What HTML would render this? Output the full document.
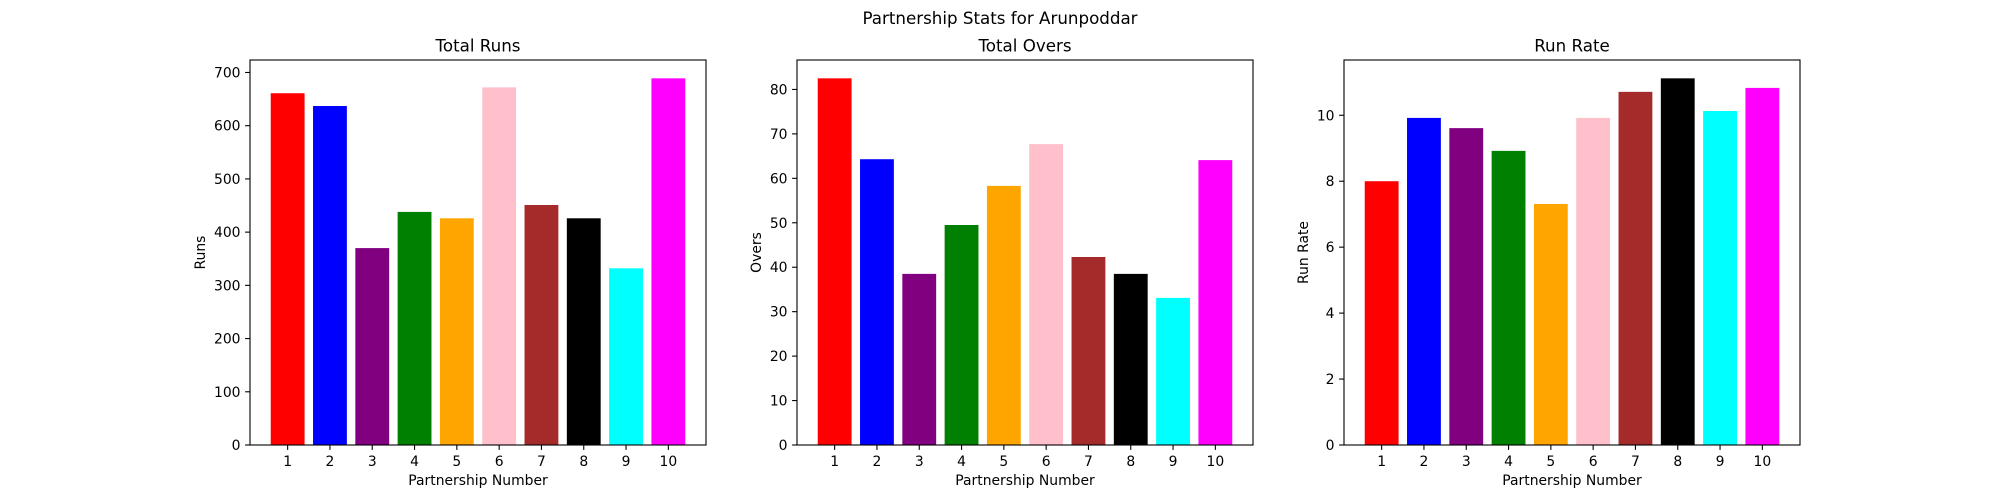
<!DOCTYPE html>
<html><head><meta charset="utf-8"><style>
html,body{margin:0;padding:0;background:#fff;}
svg{display:block;font-family:"DejaVu Sans","Liberation Sans",sans-serif;}
</style></head><body>
<svg id="fig" width="2000" height="500" viewBox="0 0 2000 500">
<text x="1000" y="24" text-anchor="middle" font-size="16.7" fill="#000">Partnership Stats for Arunpoddar</text>
</svg>
<script>
const categories = [1,2,3,4,5,6,7,8,9,10];
const barColors = ["red","blue","purple","green","orange","pink","brown","black","cyan","magenta"];
const runsValues = [661,637,370,438,426,672,451,426,332,689];
const oversValues = [82.5,64.3,38.5,49.5,58.3,67.7,42.3,38.5,33.1,64.1];
const runRateValues = [8.0,9.92,9.61,8.92,7.31,9.92,10.71,11.12,10.13,10.83];
const runsTicks = [0,100,200,300,400,500,600,700];
const oversTicks = [0,10,20,30,40,50,60,70,80];
const rateTicks = [0,2,4,6,8,10];

const NS = "http://www.w3.org/2000/svg";
const svg = document.getElementById('fig');
function mk(tag, attrs, parent){
  const e = document.createElementNS(NS, tag);
  for (const k in attrs) e.setAttribute(k, attrs[k]);
  (parent||svg).appendChild(e);
  return e;
}
const TOP=60, BOT=445;
function drawPanel(key, x0, x1, title, ylabel, values, ticks){
  const g = mk('g', {});
  
  
  const xmin = 0.11, xmax = 10.89;
  const ymax = Math.max(...values) * 1.05;
  const xs = v => x0 + (v - xmin) / (xmax - xmin) * (x1 - x0);
  const ys = v => BOT - v / ymax * (BOT - TOP);
  values.forEach((v, i) => {
    const c = categories[i];
    const r = mk('rect', {x: xs(c - 0.4), y: ys(v), width: xs(c + 0.4) - xs(c - 0.4), height: ys(0) - ys(v), fill: barColors[i]}, g);
    
    
  });
  const frame = mk('rect', {x: x0, y: TOP, width: x1 - x0, height: BOT - TOP, fill: 'none', stroke: '#000', 'stroke-width': 1.1}, g);
  
  
  ticks.forEach(t => {
    const y = ys(t);
    mk('line', {x1: x0 - 4.9, x2: x0, y1: y, y2: y, stroke: '#000', 'stroke-width': 1.1}, g);
    const tl = mk('text', {x: x0 - 9.5, y: y + 5, 'text-anchor': 'end', 'font-size': 13.9, fill: '#000'}, g);
    tl.textContent = t;
    
    
  });
  categories.forEach(c => {
    const x = xs(c);
    mk('line', {x1: x, x2: x, y1: BOT, y2: BOT + 4.9, stroke: '#000', 'stroke-width': 1.1}, g);
    const tl = mk('text', {x: x, y: BOT + 21, 'text-anchor': 'middle', 'font-size': 13.9, fill: '#000'}, g);
    tl.textContent = c;
    
    
  });
  const tt = mk('text', {x: (x0 + x1) / 2, y: 51.5, 'text-anchor': 'middle', 'font-size': 16.7, fill: '#000'}, g);
  tt.textContent = title;
  
  
  const xl = mk('text', {x: (x0 + x1) / 2, y: 485, 'text-anchor': 'middle', 'font-size': 13.9, fill: '#000'}, g);
  xl.textContent = 'Partnership Number';
  
  
  const maxLen = Math.max(...ticks.map(t => String(t).length));
  const lx = x0 - 9.5 - maxLen * 8.85 - 9;
  const yl = mk('text', {x: lx, y: (TOP + BOT) / 2, 'text-anchor': 'middle', 'font-size': 13.9, fill: '#000', transform: 'rotate(-90 ' + lx + ' ' + ((TOP + BOT) / 2) + ')'}, g);
  yl.textContent = ylabel;
  
  
}
drawPanel('runs', 250, 706, 'Total Runs', 'Runs', runsValues, runsTicks);
drawPanel('overs', 797, 1253, 'Total Overs', 'Overs', oversValues, oversTicks);
drawPanel('run-rate', 1344, 1800, 'Run Rate', 'Run Rate', runRateValues, rateTicks);
</script>
</body></html>
